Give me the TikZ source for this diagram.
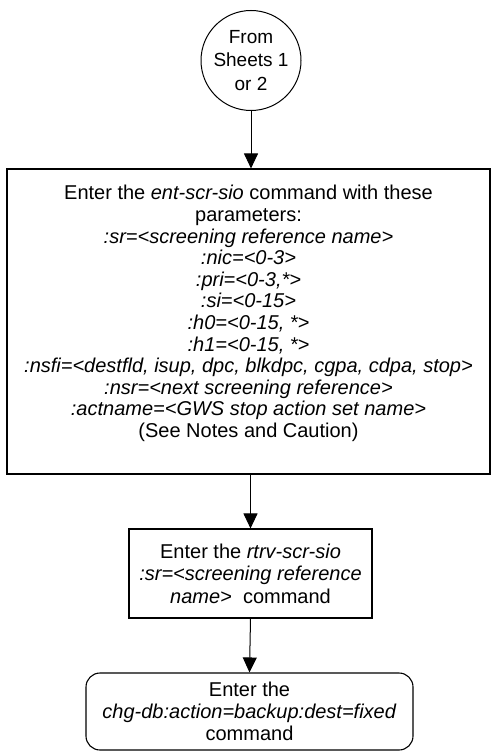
\documentclass[tikz,border=0pt]{standalone}
\usepackage{fontspec}
\setmainfont{Liberation Sans}
\usetikzlibrary{arrows.meta}
\begin{document}
\begin{tikzpicture}[x=1pt,y=-1pt,
  txt/.style={font=\fontsize{20}{21.6}\selectfont, align=center, inner sep=0pt},
  procbox/.style={txt, draw, line width=1.1pt},
  termbox/.style={txt, draw, line width=1.1pt, rounded corners=14pt},
  conn/.style={circle, draw, line width=1pt, inner sep=0pt, minimum size=100pt, align=center, font=\fontsize{19}{23.5}\selectfont},
  flow/.style={line width=1pt, -{Triangle[length=15pt,width=14pt]}}
]
\useasboundingbox (0,0) rectangle (491,751);

\node[conn] (c) at (251,60.5) {From\\Sheets 1\\or 2};

\node[procbox, minimum width=483pt, minimum height=305pt] (b1) at (248.5,321.5) {};
\node[txt] (b1t) at (248.5,313.5) {%
Enter the \textit{ent-scr-sio} command with these\\
parameters:\\
\textit{:sr=<screening reference name>}\\
\textit{:nic=<0-3>}\\
\textit{:pri=<0-3,*>}\\
\textit{:si=<0-15>}\\
\textit{:h0=<0-15, *>}\\
\textit{:h1=<0-15, *>}\\
\textit{:nsfi=<destfld, isup, dpc, blkdpc, cgpa, cdpa, stop>}\\
\textit{:nsr=<next screening reference>}\\
\textit{:actname=<GWS stop action set name>}\\
(See Notes and Caution)};

\node[procbox, minimum width=243pt, minimum height=89pt, font=\fontsize{20}{22.5}\selectfont] (b2) at (250.5,573.5) {%
Enter the \textit{rtrv-scr-sio}\\
\textit{:sr=<screening reference}\\
\textit{name>}~ command};

\node[termbox, minimum width=327pt, minimum height=77pt, font=\fontsize{20}{22}\selectfont] (b3) at (249.5,711.5) {%
Enter the\\
\textit{chg-db:action=backup:dest=fixed}\\
command};

\draw[flow] (c.south) -- (c.south |- b1.north);
\draw[flow] (b2.north |- b1.south) -- (b2.north);
\draw[flow] (b2.south) -- (b3.north);
\end{tikzpicture}
\end{document}
